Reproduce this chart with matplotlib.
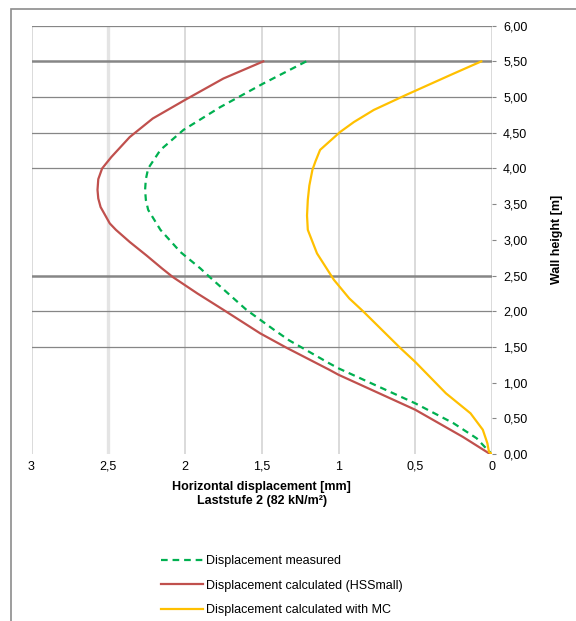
import numpy as np
import matplotlib.pyplot as plt
from matplotlib.patches import Rectangle

plt.rcParams['font.family'] = ['Liberation Sans', 'DejaVu Sans']

# wall height [m] / horizontal displacement [mm], read per series
h_measured = [5.50, 5.19, 4.86, 4.54, 4.26, 4.00, 3.85, 3.70, 3.56, 3.42, 3.14, 2.83,
              2.60, 2.50, 2.02, 1.74, 1.59, 1.48, 1.27, 1.20, 0.71, 0.43, 0.22, 0.06, 0.02]
disp_measured = [1.21, 1.49, 1.77, 2.01, 2.16, 2.24, 2.255, 2.26, 2.255, 2.24, 2.16, 2.03,
                 1.90, 1.85, 1.60, 1.42, 1.32, 1.23, 1.06, 1.00, 0.50, 0.25, 0.10, 0.03, 0.01]

h_hssmall = [5.50, 5.26, 4.96, 4.70, 4.44, 4.16, 4.00, 3.85, 3.70, 3.58, 3.46, 3.23,
             3.14, 2.97, 2.78, 2.60, 2.48, 2.25, 2.02, 1.69, 1.49, 1.18, 1.11, 0.62, 0.24, 0.01]
disp_hssmall = [1.49, 1.75, 2.00, 2.21, 2.36, 2.48, 2.54, 2.565, 2.57, 2.565, 2.55, 2.49,
                2.45, 2.36, 2.25, 2.15, 2.08, 1.92, 1.75, 1.51, 1.34, 1.06, 1.00, 0.50, 0.19, 0.02]

h_mc = [5.50, 5.31, 5.03, 4.82, 4.65, 4.51, 4.26, 4.10, 3.98, 3.76, 3.56, 3.34, 3.14, 2.81,
        2.44, 2.18, 2.00, 1.49, 1.29, 0.85, 0.57, 0.34, 0.15, 0.03, 0.0]
disp_mc = [0.07, 0.27, 0.56, 0.77, 0.90, 0.99, 1.12, 1.15, 1.17, 1.19, 1.20, 1.205, 1.20, 1.14,
           1.03, 0.93, 0.84, 0.60, 0.50, 0.30, 0.14, 0.06, 0.03, 0.02, 0.0]

x_ticks = [3, 2.5, 2, 1.5, 1, 0.5, 0]
x_labels = ['3', '2,5', '2', '1,5', '1', '0,5', '0']
y_ticks = [0, 0.5, 1, 1.5, 2, 2.5, 3, 3.5, 4, 4.5, 5, 5.5, 6]
y_labels = [('%.2f' % v).replace('.', ',') for v in y_ticks]
grid_heights = [1.5, 2, 2.5, 4, 4.5, 5, 5.5, 6]
thick_heights = [2.5, 5.5]

fig = plt.figure(figsize=(5.76, 6.21), dpi=100)
fig.patches.append(Rectangle((11 / 576, -0.1), 1.2, 1 - 9 / 621 + 0.1,
                             transform=fig.transFigure, fill=False,
                             edgecolor='#8c8c8c', linewidth=1.2))
ax = fig.add_axes([31.5 / 576, 1 - 454 / 621, (492 - 31.5) / 576, (454 - 25.7) / 621])

# grid lines
for xv in x_ticks:
    if xv == 2.5:
        ax.axvline(xv, color='#e4e4e4', linewidth=2.4, zorder=0)
    else:
        ax.axvline(xv, color='#d4d4d4', linewidth=1.2, zorder=0)
for yv in grid_heights:
    lw = 1.8 if yv in thick_heights else 0.9
    ax.axhline(yv, color='#868686', linewidth=lw, zorder=1)

ax.plot(disp_measured, h_measured, color='#00B050', linewidth=1.6, dashes=(3, 2.2),
        label='Displacement measured', zorder=3)
ax.plot(disp_hssmall, h_hssmall, color='#C0504D', linewidth=1.6,
        label='Displacement calculated (HSSmall)', zorder=3)
ax.plot(disp_mc, h_mc, color='#FFC000', linewidth=1.6,
        label='Displacement calculated with MC', zorder=3)

ax.set_xlim(3, 0)
ax.set_ylim(0, 6)
for s in ax.spines.values():
    s.set_visible(False)
ax.yaxis.tick_right()
ax.yaxis.set_label_position('right')
ax.set_xticks(x_ticks)
ax.set_xticklabels(x_labels, fontsize=9)
ax.set_yticks(y_ticks)
ax.set_yticklabels(y_labels, fontsize=9)
ax.tick_params(axis='x', length=0, pad=5)
ax.tick_params(axis='y', length=3, color='#868686', pad=5)
ax.set_xlabel('Horizontal displacement [mm]\nLaststufe 2 (82 kN/m²)',
              fontsize=9, fontweight='bold', labelpad=6)
ax.set_ylabel('Wall height [m]', fontsize=9, fontweight='bold', labelpad=17)

ax.legend(loc='upper left', bbox_to_anchor=(150 / 576, 1 - 544 / 621),
          bbox_transform=fig.transFigure, frameon=False, fontsize=9,
          handlelength=3.3, labelspacing=1.0, handletextpad=0.3)

fig.savefig('out.png', dpi=100)
